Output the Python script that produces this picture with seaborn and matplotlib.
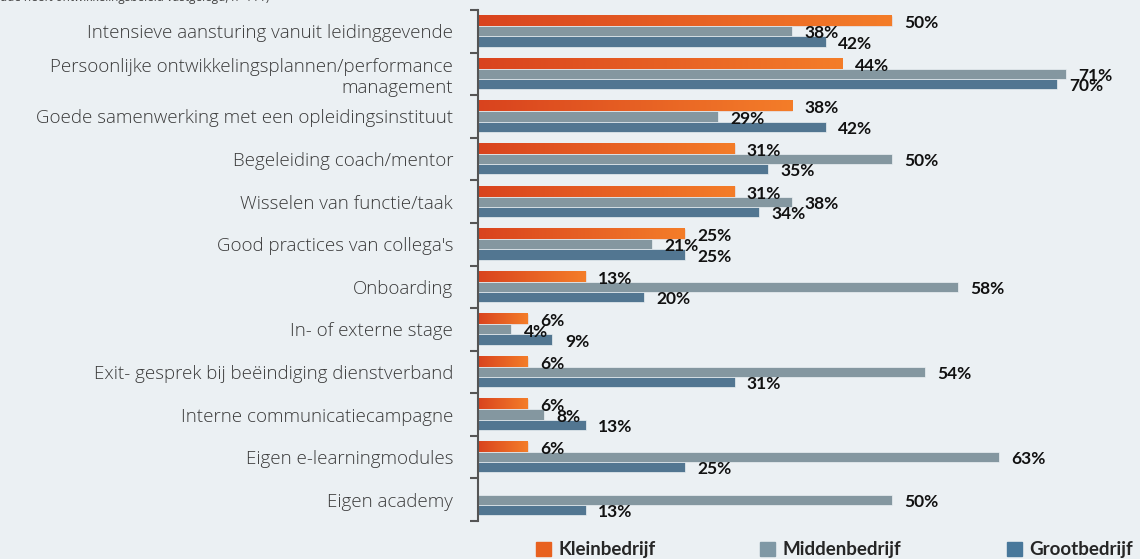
import numpy as np
import pandas as pd
import matplotlib
matplotlib.use("Agg")
import matplotlib.pyplot as plt
import seaborn as sns
from matplotlib.colors import LinearSegmentedColormap
from matplotlib.patches import Patch

categories = [
    "Intensieve aansturing vanuit leidinggevende",
    "Persoonlijke ontwikkelingsplannen/performance\nmanagement",
    "Goede samenwerking met een opleidingsinstituut",
    "Begeleiding coach/mentor",
    "Wisselen van functie/taak",
    "Good practices van collega's",
    "Onboarding",
    "In- of externe stage",
    "Exit- gesprek bij beëindiging dienstverband",
    "Interne communicatiecampagne",
    "Eigen e-learningmodules",
    "Eigen academy",
]
series = ["Kleinbedrijf", "Middenbedrijf", "Grootbedrijf"]
klein = [50, 44, 38, 31, 31, 25, 13, 6, 6, 6, 6, 0]
midden = [38, 71, 29, 50, 38, 21, 58, 4, 54, 8, 63, 50]
groot = [42, 70, 42, 35, 34, 25, 20, 9, 31, 13, 25, 13]
top_note = "ude heeft ontwikkelingsbeleid vastgelegd, n=111)"

BG = "#ebf0f3"
C_K = "#e4541f"
C_M = "#7f98a5"
C_G = "#48789b"

rows = []
for s, vals in zip(series, [klein, midden, groot]):
    for c, v in zip(categories, vals):
        rows.append({"cat": c, "serie": s, "val": v})
df = pd.DataFrame(rows)

sns.set_theme(style="white")
plt.rcParams["font.family"] = ["Open Sans", "DejaVu Sans"]

fig = plt.figure(figsize=(11.4, 5.59), dpi=100, facecolor=BG)
ax = fig.add_axes([478 / 1140, 1 - 521 / 559, 1 - 478 / 1140, (521 - 10) / 559])
ax.set_facecolor(BG)

sns.barplot(data=df, y="cat", x="val", hue="serie", orient="h",
            palette=[C_K, C_M, C_G], width=0.72, ax=ax, legend=False,
            edgecolor=BG, linewidth=0.5)

ax.set_xlim(0, 80)
ax.set_ylim(11.5, -0.5)
ax.set_xlabel("")
ax.set_ylabel("")
ax.set_xticks([])

# gradient on Kleinbedrijf bars
cmap = LinearSegmentedColormap.from_list("or", ["#d9431e", "#f47d29"])
grad = np.linspace(0, 1, 256).reshape(1, -1)
n = len(categories)
patches = ax.patches
for i, p in enumerate(patches[:n]):
    w = p.get_width()
    if w <= 0:
        continue
    x0, y0 = p.get_x(), p.get_y()
    h = p.get_height()
    ax.imshow(grad, cmap=cmap, aspect="auto", extent=[x0, x0 + w, y0 + h, y0],
              zorder=p.get_zorder() + 0.1, interpolation="bicubic")
ax.set_xlim(0, 80)
ax.set_ylim(11.5, -0.5)

# value labels
for j, vals in enumerate([klein, midden, groot]):
    for i, p in enumerate(patches[j * n:(j + 1) * n]):
        v = vals[i]
        if v <= 0:
            continue
        yc = p.get_y() + p.get_height() / 2 + 0.05
        ax.text(p.get_width() + 1.5, yc, f"{v}%", va="center", ha="left",
                fontsize=12.5, fontweight="bold", color="#111111",
                family=["Lato", "DejaVu Sans"], zorder=5)

# spines and ticks
for s in ["top", "right", "bottom"]:
    ax.spines[s].set_visible(False)
ax.spines["left"].set_color("#555555")
ax.spines["left"].set_linewidth(1.5)
ax.set_yticks(np.arange(-0.5, 12, 1), minor=True)
ax.tick_params(axis="y", which="minor", length=6, width=1.5, color="#555555", left=True)
ax.tick_params(axis="y", which="major", length=0, pad=18, labelsize=13.5, labelcolor="#3a3a3a")
for lab in ax.get_yticklabels():
    lab.set_horizontalalignment("right")
    lab.set_fontweight("light")

fig.text(0.0, 1 + 2 / 559, top_note, ha="left", va="center", fontsize=8.5, color="#444444")

handles = [Patch(color="#e8611f"), Patch(color=C_M), Patch(color=C_G)]
fig.legend(handles, series, loc="center left", bbox_to_anchor=(530 / 1140, 1 - 550 / 559),
           ncol=3, frameon=False, handlelength=0.8, handleheight=0.8, handletextpad=0.4,
           columnspacing=5.6, borderaxespad=0, borderpad=0.3,
           prop={"family": ["Lato", "DejaVu Sans"], "weight": "bold", "size": 13.5})

fig.savefig("out.png", dpi=100, facecolor=BG)
